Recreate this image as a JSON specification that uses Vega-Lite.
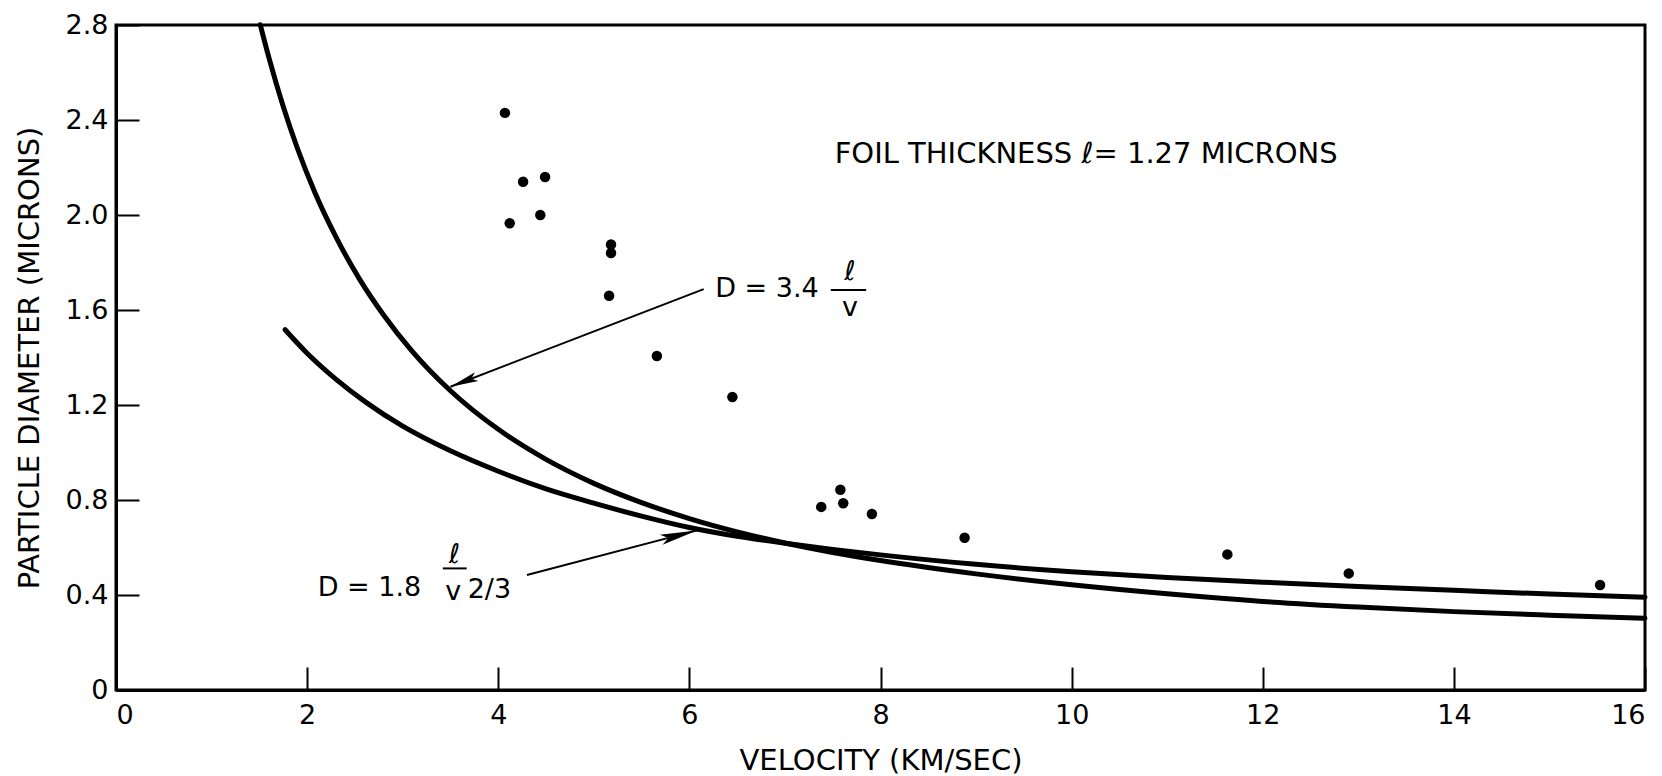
{
  "$schema": "https://vega.github.io/schema/vega-lite/v6.json",
  "width": 1529,
  "height": 665,
  "autosize": "none",
  "padding": {"left": 116, "top": 25, "right": 17, "bottom": 86},
  "background": "white",
  "config": {
    "font": "DejaVu Sans",
    "view": {"stroke": "black", "strokeWidth": 3},
    "axis": {
      "domainColor": "black",
      "domainWidth": 3,
      "tickColor": "black",
      "tickWidth": 2,
      "tickSize": -23,
      "grid": false,
      "labelColor": "black",
      "labelFont": "DejaVu Sans",
      "labelFontSize": 27,
      "labelPadding": 35,
      "titleColor": "black",
      "titleFont": "DejaVu Sans",
      "titleFontSize": 29,
      "titleFontWeight": "normal"
    }
  },
  "datasets": {
    "impacts": [
      {"v": 4.07, "d": 2.43},
      {"v": 4.26, "d": 2.14},
      {"v": 4.49, "d": 2.16},
      {"v": 4.12, "d": 1.965},
      {"v": 4.44, "d": 2.0},
      {"v": 5.18, "d": 1.876},
      {"v": 5.18, "d": 1.84},
      {"v": 5.16, "d": 1.66},
      {"v": 5.66, "d": 1.406},
      {"v": 6.45, "d": 1.234},
      {"v": 7.38, "d": 0.771},
      {"v": 7.58, "d": 0.843},
      {"v": 7.61, "d": 0.786},
      {"v": 7.91, "d": 0.741},
      {"v": 8.88, "d": 0.641},
      {"v": 11.63, "d": 0.571},
      {"v": 12.9, "d": 0.491},
      {"v": 15.53, "d": 0.442}
    ],
    "curves": [
      {"series": "D = 3.4 l/v", "v": 1.51, "d": 2.801},
      {"series": "D = 3.4 l/v", "v": 1.6, "d": 2.663},
      {"series": "D = 3.4 l/v", "v": 1.75, "d": 2.457},
      {"series": "D = 3.4 l/v", "v": 1.9, "d": 2.279},
      {"series": "D = 3.4 l/v", "v": 2.08, "d": 2.096},
      {"series": "D = 3.4 l/v", "v": 2.3, "d": 1.909},
      {"series": "D = 3.4 l/v", "v": 2.55, "d": 1.729},
      {"series": "D = 3.4 l/v", "v": 2.8, "d": 1.579},
      {"series": "D = 3.4 l/v", "v": 3.1, "d": 1.426},
      {"series": "D = 3.4 l/v", "v": 3.5, "d": 1.26},
      {"series": "D = 3.4 l/v", "v": 4.0, "d": 1.0975},
      {"series": "D = 3.4 l/v", "v": 4.5, "d": 0.971},
      {"series": "D = 3.4 l/v", "v": 5.0, "d": 0.87},
      {"series": "D = 3.4 l/v", "v": 5.5, "d": 0.789},
      {"series": "D = 3.4 l/v", "v": 6.0, "d": 0.722},
      {"series": "D = 3.4 l/v", "v": 6.5, "d": 0.666},
      {"series": "D = 3.4 l/v", "v": 7.0, "d": 0.619},
      {"series": "D = 3.4 l/v", "v": 7.5, "d": 0.579},
      {"series": "D = 3.4 l/v", "v": 8.0, "d": 0.545},
      {"series": "D = 3.4 l/v", "v": 9.0, "d": 0.489},
      {"series": "D = 3.4 l/v", "v": 10.0, "d": 0.443},
      {"series": "D = 3.4 l/v", "v": 11.0, "d": 0.405},
      {"series": "D = 3.4 l/v", "v": 12.0, "d": 0.373},
      {"series": "D = 3.4 l/v", "v": 13.0, "d": 0.349},
      {"series": "D = 3.4 l/v", "v": 14.0, "d": 0.33},
      {"series": "D = 3.4 l/v", "v": 15.0, "d": 0.315},
      {"series": "D = 3.4 l/v", "v": 16.0, "d": 0.302},
      {"series": "D = 1.8 l/v^2/3", "v": 1.77, "d": 1.517},
      {"series": "D = 1.8 l/v^2/3", "v": 2.0, "d": 1.418},
      {"series": "D = 1.8 l/v^2/3", "v": 2.3, "d": 1.309},
      {"series": "D = 1.8 l/v^2/3", "v": 2.62, "d": 1.21},
      {"series": "D = 1.8 l/v^2/3", "v": 3.0, "d": 1.111},
      {"series": "D = 1.8 l/v^2/3", "v": 3.5, "d": 1.007},
      {"series": "D = 1.8 l/v^2/3", "v": 4.0, "d": 0.921},
      {"series": "D = 1.8 l/v^2/3", "v": 4.5, "d": 0.847},
      {"series": "D = 1.8 l/v^2/3", "v": 5.0, "d": 0.787},
      {"series": "D = 1.8 l/v^2/3", "v": 5.5, "d": 0.732},
      {"series": "D = 1.8 l/v^2/3", "v": 6.0, "d": 0.684},
      {"series": "D = 1.8 l/v^2/3", "v": 6.5, "d": 0.647},
      {"series": "D = 1.8 l/v^2/3", "v": 7.0, "d": 0.618},
      {"series": "D = 1.8 l/v^2/3", "v": 7.5, "d": 0.592},
      {"series": "D = 1.8 l/v^2/3", "v": 8.0, "d": 0.569},
      {"series": "D = 1.8 l/v^2/3", "v": 9.0, "d": 0.529},
      {"series": "D = 1.8 l/v^2/3", "v": 10.0, "d": 0.498},
      {"series": "D = 1.8 l/v^2/3", "v": 11.0, "d": 0.474},
      {"series": "D = 1.8 l/v^2/3", "v": 12.0, "d": 0.454},
      {"series": "D = 1.8 l/v^2/3", "v": 13.0, "d": 0.436},
      {"series": "D = 1.8 l/v^2/3", "v": 14.0, "d": 0.42},
      {"series": "D = 1.8 l/v^2/3", "v": 15.0, "d": 0.404},
      {"series": "D = 1.8 l/v^2/3", "v": 16.0, "d": 0.391}
    ],
    "pointers": [
      {"v": 6.15, "d": 1.688, "v2": 3.5, "d2": 1.277},
      {"v": 4.3, "d": 0.484, "v2": 6.08, "d2": 0.672}
    ],
    "fractionBars": [
      {"v": 7.48, "v2": 7.85, "d": 1.684},
      {"v": 3.42, "v2": 3.67, "d": 0.512}
    ],
    "heading": [
      {"v": 7.52, "d": 2.255, "txt": "FOIL THICKNESS ℓ= 1.27 MICRONS"}
    ],
    "leftText": [
      {"v": 6.27, "d": 1.69, "txt": "D = 3.4"},
      {"v": 2.11, "d": 0.429, "txt": "D = 1.8"},
      {"v": 3.68, "d": 0.421, "txt": "2/3"}
    ],
    "centerText": [
      {"v": 7.68, "d": 1.76, "txt": "ℓ"},
      {"v": 7.68, "d": 1.608, "txt": "v"},
      {"v": 3.54, "d": 0.568, "txt": "ℓ"},
      {"v": 3.53, "d": 0.413, "txt": "v"}
    ]
  },
  "layer": [
    {
      "data": {"name": "curves"},
      "mark": {"type": "line", "color": "black", "strokeWidth": 5, "interpolate": "monotone", "strokeCap": "round"},
      "encoding": {
        "x": {
          "field": "v",
          "type": "quantitative",
          "scale": {"domain": [0, 16], "nice": false, "zero": false},
          "axis": {
            "values": [0, 2, 4, 6, 8, 10, 12, 14, 16],
            "format": "d",
            "title": "VELOCITY (KM/SEC)",
            "titlePadding": 18
          }
        },
        "y": {
          "field": "d",
          "type": "quantitative",
          "scale": {"domain": [0, 2.8], "nice": false, "zero": false},
          "axis": {
            "values": [0, 0.4, 0.8, 1.2, 1.6, 2.0, 2.4, 2.8],
            "labelExpr": "datum.value === 0 ? '0' : format(datum.value, '.1f')",
            "labelPadding": 31,
            "title": "PARTICLE DIAMETER (MICRONS)",
            "titlePadding": 21
          }
        },
        "detail": {"field": "series", "type": "nominal"},
        "order": {"field": "v", "type": "quantitative"}
      }
    },
    {
      "data": {"name": "impacts"},
      "mark": {"type": "circle", "color": "black", "opacity": 1, "size": 110},
      "encoding": {
        "x": {"field": "v", "type": "quantitative"},
        "y": {"field": "d", "type": "quantitative"}
      }
    },
    {
      "data": {"name": "pointers"},
      "mark": {"type": "rule", "color": "black", "strokeWidth": 2},
      "encoding": {
        "x": {"field": "v", "type": "quantitative"},
        "y": {"field": "d", "type": "quantitative"},
        "x2": {"field": "v2"},
        "y2": {"field": "d2"}
      }
    },
    {
      "data": {"values": [{"v": 3.5, "d": 1.277}]},
      "mark": {"type": "point", "shape": "M0,0L-1,-0.17L-0.8,0L-1,0.17Z", "filled": true, "color": "black", "opacity": 1, "size": 3136, "angle": 158.9},
      "encoding": {
        "x": {"field": "v", "type": "quantitative"},
        "y": {"field": "d", "type": "quantitative"}
      }
    },
    {
      "data": {"values": [{"v": 6.08, "d": 0.672}]},
      "mark": {"type": "point", "shape": "M0,0L-1,-0.14L-0.8,0L-1,0.14Z", "filled": true, "color": "black", "opacity": 1, "size": 5476, "angle": 345.2},
      "encoding": {
        "x": {"field": "v", "type": "quantitative"},
        "y": {"field": "d", "type": "quantitative"}
      }
    },
    {
      "data": {"name": "fractionBars"},
      "mark": {"type": "rule", "color": "black", "strokeWidth": 2},
      "encoding": {
        "x": {"field": "v", "type": "quantitative"},
        "x2": {"field": "v2"},
        "y": {"field": "d", "type": "quantitative"}
      }
    },
    {
      "data": {"name": "heading"},
      "mark": {"type": "text", "align": "left", "baseline": "middle", "font": "DejaVu Sans", "fontSize": 29, "color": "black"},
      "encoding": {
        "x": {"field": "v", "type": "quantitative"},
        "y": {"field": "d", "type": "quantitative"},
        "text": {"field": "txt"}
      }
    },
    {
      "data": {"name": "leftText"},
      "mark": {"type": "text", "align": "left", "baseline": "middle", "font": "DejaVu Sans", "fontSize": 27, "color": "black"},
      "encoding": {
        "x": {"field": "v", "type": "quantitative"},
        "y": {"field": "d", "type": "quantitative"},
        "text": {"field": "txt"}
      }
    },
    {
      "data": {"name": "centerText"},
      "mark": {"type": "text", "align": "center", "baseline": "middle", "font": "DejaVu Sans", "fontSize": 27, "color": "black"},
      "encoding": {
        "x": {"field": "v", "type": "quantitative"},
        "y": {"field": "d", "type": "quantitative"},
        "text": {"field": "txt"}
      }
    }
  ]
}
